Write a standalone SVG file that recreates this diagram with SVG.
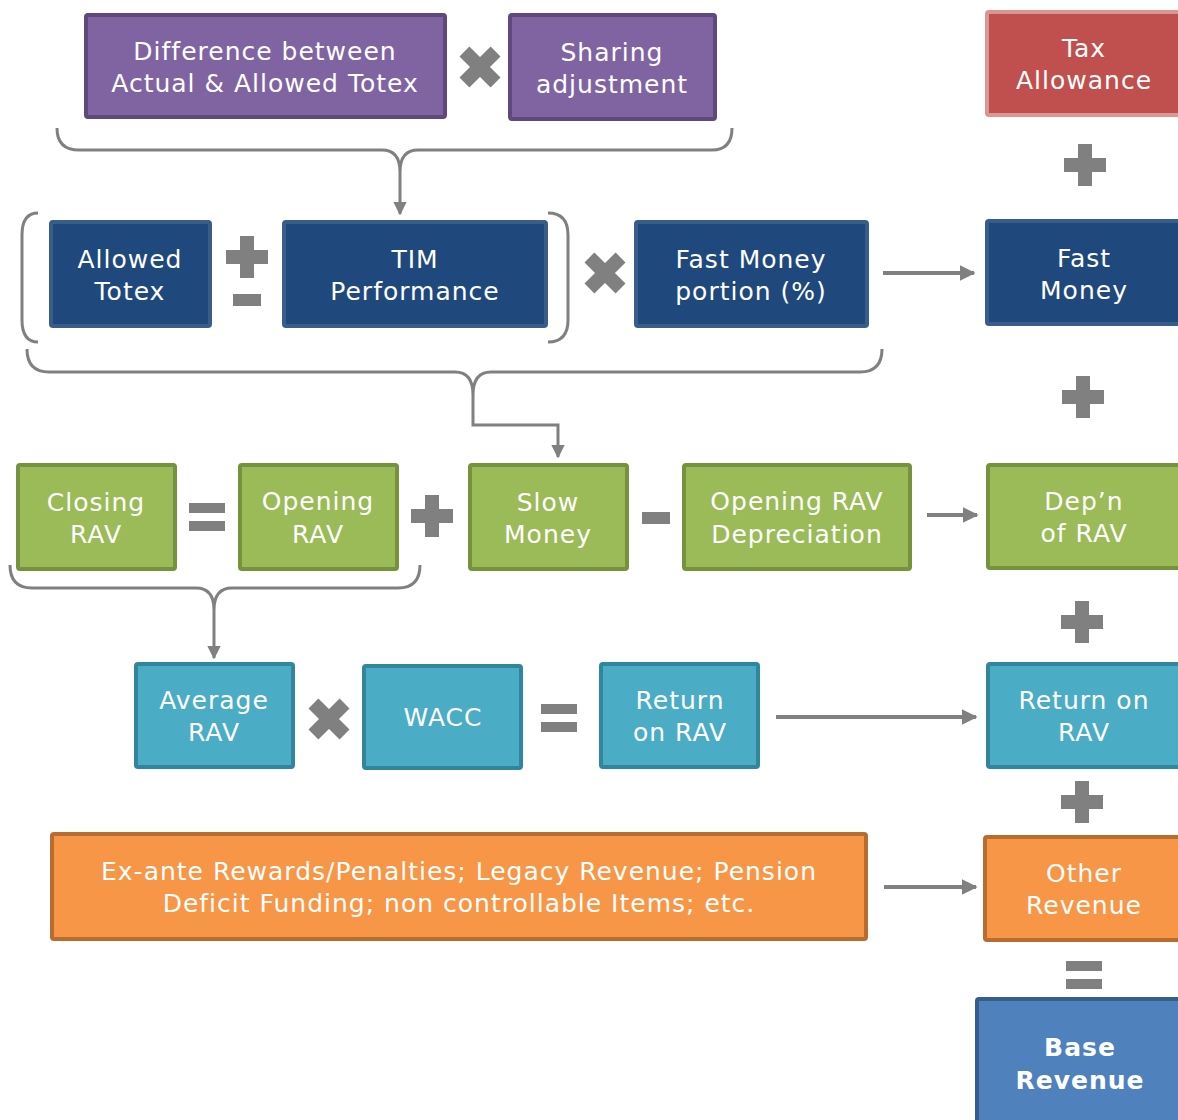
<svg xmlns="http://www.w3.org/2000/svg" width="1178" height="1120" viewBox="0 0 1178 1120">
<style>
.t{font-family:"DejaVu Sans","Verdana",sans-serif;font-size:25px;fill:#ffffff;text-anchor:middle;letter-spacing:1px}
.b{font-weight:bold}
.box{stroke-width:4}
.pur{fill:#8064a2;stroke:#5f497a}
.red{fill:#c0504d;stroke:#d99694}
.dblue{fill:#1f497d;stroke:#385d8a}
.grn{fill:#9bbb59;stroke:#76923c}
.teal{fill:#4bacc6;stroke:#31859c}
.org{fill:#f79646;stroke:#b86d30}
.base{fill:#4f81bd;stroke:#385d8a}
.sign{fill:#808080}
.con{fill:none;stroke:#808080;stroke-width:3}
.arr{fill:none;stroke:#808080;stroke-width:4}
</style>
<defs>
<marker id="ah" viewBox="0 0 10 10" refX="9" refY="5" markerWidth="4" markerHeight="4" orient="auto" markerUnits="strokeWidth">
<path d="M0,0 L10,5 L0,10 z" fill="#808080"/>
</marker>
<marker id="ah2" viewBox="0 0 10 10" refX="9" refY="5" markerWidth="4.5" markerHeight="4.5" orient="auto" markerUnits="strokeWidth">
<path d="M0,0 L10,5 L0,10 z" fill="#808080"/>
</marker>
<g id="plus"><rect x="-21" y="-7" width="42" height="14"/><rect x="-7" y="-21" width="14" height="42"/></g>
<g id="times"><g transform="rotate(45)"><rect x="-22" y="-7" width="44" height="14"/><rect x="-7" y="-22" width="14" height="44"/></g></g>
<g id="minus"><rect x="-14" y="-6" width="28" height="12"/></g>
<g id="equals"><rect x="-18" y="-14" width="36" height="10"/><rect x="-18" y="4" width="36" height="10"/></g>
</defs>

<g id="connectors">
<path class="con" d="M57,128 Q57,150 79,150 L382,150 Q400,150 400,172 Q400,150 418,150 L712,150 Q732,150 732,128"/>
<path class="con" d="M400,172 L400,214" marker-end="url(#ah2)"/>
<path class="con" d="M38,213 Q22,213 22,235 L22,320 Q22,342 38,342"/>
<path class="con" d="M548,213 Q568,213 568,235 L568,320 Q568,342 548,342"/>
<path class="con" d="M27,349 Q27,372 49,372 L455,372 Q473,372 473,395 Q473,372 491,372 L860,372 Q882,372 882,349"/>
<path class="con" d="M473,395 L473,425 L558,425 L558,457" marker-end="url(#ah2)"/>
<path class="con" d="M10,565 Q10,588 32,588 L196,588 Q214,588 214,610 Q214,588 232,588 L398,588 Q420,588 420,565"/>
<path class="con" d="M214,610 L214,658" marker-end="url(#ah2)"/>
<path class="arr" d="M883,273 L974,273" marker-end="url(#ah)"/>
<path class="arr" d="M927,515 L977,515" marker-end="url(#ah)"/>
<path class="arr" d="M776,717 L976,717" marker-end="url(#ah)"/>
<path class="arr" d="M884,887 L976,887" marker-end="url(#ah)"/>
</g>

<g id="signs" class="sign">
<use href="#times" x="480" y="67"/>
<use href="#plus" x="1085" y="165"/>
<use href="#plus" x="247" y="257"/>
<use href="#minus" x="247" y="300"/>
<use href="#times" x="605" y="273"/>
<use href="#plus" x="1083" y="397"/>
<use href="#equals" x="207" y="517"/>
<use href="#plus" x="432" y="516"/>
<use href="#minus" x="656" y="518"/>
<use href="#plus" x="1082" y="622"/>
<use href="#times" x="329" y="719"/>
<use href="#equals" x="559" y="718"/>
<use href="#plus" x="1082" y="802"/>
<use href="#equals" x="1084" y="975"/>
</g>

<g id="n-diff"><rect class="box pur" x="86" y="15" width="359" height="102" rx="2"/>
<text class="t" x="265" y="60">Difference between</text><text class="t" x="265" y="92">Actual &amp; Allowed Totex</text></g>
<g id="n-sharing"><rect class="box pur" x="510" y="15" width="205" height="104" rx="2"/>
<text class="t" x="612" y="61">Sharing</text><text class="t" x="612" y="93">adjustment</text></g>
<g id="n-tax"><rect class="box red" x="987" y="12" width="200" height="103" rx="2"/>
<text class="t" x="1084" y="57">Tax</text><text class="t" x="1084" y="89">Allowance</text></g>

<g id="n-allowed"><rect class="box dblue" x="51" y="222" width="159" height="104" rx="2"/>
<text class="t" x="130" y="268">Allowed</text><text class="t" x="130" y="300">Totex</text></g>
<g id="n-tim"><rect class="box dblue" x="284" y="222" width="262" height="104" rx="2"/>
<text class="t" x="415" y="268">TIM</text><text class="t" x="415" y="300">Performance</text></g>
<g id="n-fmportion"><rect class="box dblue" x="636" y="222" width="231" height="104" rx="2"/>
<text class="t" x="751" y="268">Fast Money</text><text class="t" x="751" y="300">portion (%)</text></g>
<g id="n-fast"><rect class="box dblue" x="987" y="221" width="200" height="103" rx="2"/>
<text class="t" x="1084" y="267">Fast</text><text class="t" x="1084" y="299">Money</text></g>

<g id="n-closing"><rect class="box grn" x="18" y="465" width="157" height="104" rx="2"/>
<text class="t" x="96" y="511">Closing</text><text class="t" x="96" y="543">RAV</text></g>
<g id="n-opening"><rect class="box grn" x="240" y="465" width="157" height="104" rx="2"/>
<text class="t" x="318" y="510">Opening</text><text class="t" x="318" y="543">RAV</text></g>
<g id="n-slow"><rect class="box grn" x="470" y="465" width="157" height="104" rx="2"/>
<text class="t" x="548" y="511">Slow</text><text class="t" x="548" y="543">Money</text></g>
<g id="n-depr"><rect class="box grn" x="684" y="465" width="226" height="104" rx="2"/>
<text class="t" x="797" y="510">Opening RAV</text><text class="t" x="797" y="543">Depreciation</text></g>
<g id="n-depn"><rect class="box grn" x="988" y="465" width="200" height="103" rx="2"/>
<text class="t" x="1084" y="510">Dep’n</text><text class="t" x="1084" y="542">of RAV</text></g>

<g id="n-avg"><rect class="box teal" x="136" y="664" width="157" height="103" rx="2"/>
<text class="t" x="214" y="709">Average</text><text class="t" x="214" y="741">RAV</text></g>
<g id="n-wacc"><rect class="box teal" x="364" y="666" width="157" height="102" rx="2"/>
<text class="t" x="443" y="726">WACC</text></g>
<g id="n-return"><rect class="box teal" x="601" y="664" width="157" height="103" rx="2"/>
<text class="t" x="680" y="709">Return</text><text class="t" x="680" y="741">on RAV</text></g>
<g id="n-returnrav"><rect class="box teal" x="988" y="664" width="200" height="103" rx="2"/>
<text class="t" x="1084" y="709">Return on</text><text class="t" x="1084" y="741">RAV</text></g>

<g id="n-exante"><rect class="box org" x="52" y="834" width="814" height="105" rx="2"/>
<text class="t" x="459" y="880">Ex-ante Rewards/Penalties; Legacy Revenue; Pension</text><text class="t" x="459" y="912">Deficit Funding; non controllable Items; etc.</text></g>
<g id="n-other"><rect class="box org" x="985" y="837" width="200" height="103" rx="2"/>
<text class="t" x="1084" y="882">Other</text><text class="t" x="1084" y="914">Revenue</text></g>

<g id="n-base"><rect class="box base" x="977" y="999" width="210" height="130" rx="2"/>
<text class="t b" x="1080" y="1056">Base</text><text class="t b" x="1080" y="1089">Revenue</text></g>
</svg>
